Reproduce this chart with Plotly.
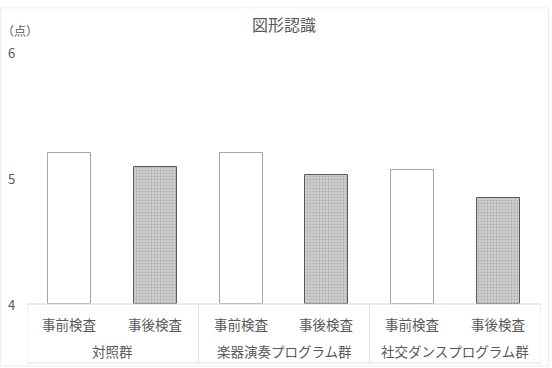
import plotly.graph_objects as go

# ---- data ----
groups = ["対照群", "楽器演奏プログラム群", "社交ダンスプログラム群"]
tests = ["事前検査", "事後検査"]
pre_values = [5.20, 5.20, 5.06]
post_values = [5.09, 5.02, 4.84]
y_ticks = [4, 5, 6]
y_unit = "（点）"
title_text = "図形認識"

FONT = "Noto Sans CJK JP"
TXT = "#595959"

n_groups = len(groups)
n_tests = len(tests)
pre_x = [g * n_tests + 0 for g in range(n_groups)]
post_x = [g * n_tests + 1 for g in range(n_groups)]

fig = go.Figure()
fig.add_trace(go.Bar(
    x=pre_x, y=[v - y_ticks[0] for v in pre_values], base=y_ticks[0],
    width=0.5, name=tests[0],
    marker=dict(color="white", line=dict(color="#a6a6a6", width=1)),
))
fig.add_trace(go.Bar(
    x=post_x, y=[v - y_ticks[0] for v in post_values], base=y_ticks[0],
    width=0.5, name=tests[1],
    marker=dict(color="#c4c4c4", line=dict(color="#595959", width=1),
                pattern=dict(shape=".", fgcolor="#8a8a8a", bgcolor="#cfcfcf",
                             size=3, solidity=0.3)),
))

annotations = []
# y tick labels
for t in y_ticks:
    annotations.append(dict(x=-0.041, xref="paper", y=t, yref="y", text=str(t),
                            showarrow=False, xanchor="left", yanchor="middle",
                            font=dict(family=FONT, size=13, color=TXT)))
annotations.append(dict(x=-0.052, xref="paper", y=1.085, yref="paper", text=y_unit,
                        showarrow=False, xanchor="left", yanchor="middle",
                        font=dict(family=FONT, size=12, color=TXT)))
# category labels
for g in range(n_groups):
    for k, t in enumerate(tests):
        annotations.append(dict(x=g * n_tests + k, xref="x", y=-0.079, yref="paper",
                                text=t, showarrow=False, yanchor="middle",
                                font=dict(family=FONT, size=13.5, color=TXT)))
    annotations.append(dict(x=g * n_tests + (n_tests - 1) / 2, xref="x", y=-0.186,
                            yref="paper", text=groups[g], showarrow=False,
                            yanchor="middle",
                            font=dict(family=FONT, size=13.5, color=TXT)))

shapes = []
LINE = dict(color="#e3e3e3", width=1)
x0 = -0.5
x1 = n_groups * n_tests - 0.5
# category box
shapes.append(dict(type="line", xref="x", yref="paper", x0=x0, x1=x1, y0=0, y1=0,
                   line=dict(color="#d9d9d9", width=1)))
shapes.append(dict(type="line", xref="x", yref="paper", x0=x0, x1=x1, y0=-0.234, y1=-0.234, line=LINE))
for g in range(n_groups + 1):
    xb = g * n_tests - 0.5
    shapes.append(dict(type="line", xref="x", yref="paper", x0=xb, x1=xb, y0=0, y1=-0.234, line=LINE))
# outer chart border
shapes.append(dict(type="rect", xref="paper", yref="paper", x0=-0.051, x1=1.0145,
                   y0=-0.246, y1=1.175, line=dict(color="#ececec", width=1)))

fig.update_layout(
    width=552, height=368,
    margin=dict(l=27, r=11, t=52, b=64),
    paper_bgcolor="white", plot_bgcolor="white",
    showlegend=False,
    bargap=0,
    title=dict(text=title_text, x=0.5, xanchor="center", y=0.93, yanchor="middle",
               xref="paper", yref="container",
               font=dict(family=FONT, size=16, color=TXT)),
    xaxis=dict(range=[x0, x1], showticklabels=False, showgrid=False, zeroline=False,
               showline=False, ticks=""),
    yaxis=dict(range=[y_ticks[0], y_ticks[-1]], tickvals=y_ticks, showticklabels=False,
               showgrid=False, zeroline=False, showline=False, ticks=""),
    annotations=annotations,
    shapes=shapes,
)

fig.write_html("out.html")
